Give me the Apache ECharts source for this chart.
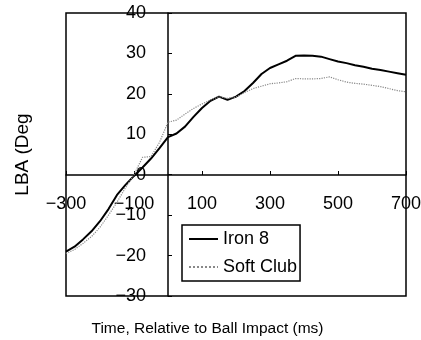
<!DOCTYPE html>
<html>
<head>
<meta charset="utf-8">
<script src="https://cdn.jsdelivr.net/npm/echarts@6/dist/echarts.min.js"></script>
<style>
  html, body { margin: 0; padding: 0; background: #fff; }
  #chart { width: 421px; height: 340px; }
</style>
</head>
<body>
<div id="chart"></div>
<script>
// time relative to ball impact (ms)
var times = [-300, -275, -250, -225, -200, -175, -150, -125, -100, -75, -50, -25, 0,
  25, 50, 75, 100, 125, 150, 175, 200, 225, 250, 275, 300, 325, 350, 375, 400,
  425, 450, 475, 500, 525, 550, 575, 600, 625, 650, 675, 700]
var iron8 = [-19.0, -17.8, -16.0, -14.0, -11.5, -8.5, -5.0, -2.5, -0.3, 1.8, 4.0, 6.6, 9.3,
  10.2, 11.9, 14.3, 16.5, 18.3, 19.3, 18.5, 19.3, 20.7, 22.7, 24.9, 26.4, 27.3, 28.2, 29.4, 29.5,
  29.4, 29.2, 28.6, 28.0, 27.6, 27.1, 26.7, 26.2, 25.9, 25.5, 25.1, 24.7]
var softClub = [-19.5, -18.5, -17.0, -15.3, -13.0, -10.0, -6.8, -3.2, 0.0, 4.3, 4.5, 8.0, 13.0,
  13.5, 15.0, 16.4, 17.5, 18.5, 19.3, 18.9, 19.2, 20.3, 21.3, 21.9, 22.5, 22.7, 23.0, 23.8, 23.7,
  23.7, 23.8, 24.2, 23.5, 22.9, 22.6, 22.4, 22.1, 21.8, 21.3, 20.8, 20.5]
var seriesNames = ['Iron 8', 'Soft Club']

function pairs (ys) {
  var out = []
  for (var i = 0; i < times.length; i++) out.push([times[i], ys[i]])
  return out
}
function minus (v) {
  return String(v).replace('-', '\u2212')
}

var myChart = echarts.init(document.getElementById('chart'))
var font = 'Liberation Sans, Arial, sans-serif'
// axes cross at (0, 0): move them in from the grid edges
var xAxisOffset = -121
var yAxisOffset = -102
var option = {
  animation: false,
  textStyle: { fontFamily: font },
  grid: {
    left: 66, right: 15, top: 13, bottom: 44,
    containLabel: false,
    outerBoundsMode: 'none',
    show: true, borderColor: '#000', borderWidth: 1.5
  },
  legend: {
    orient: 'vertical',
    left: 182, top: 225,
    padding: [5, 3, 5, 6],
    itemGap: 10,
    itemWidth: 29, itemHeight: 10,
    borderColor: '#000', borderWidth: 1.5,
    itemStyle: { opacity: 0 },
    textStyle: { fontSize: 18, color: '#000', fontFamily: font },
    data: seriesNames
  },
  xAxis: {
    type: 'value',
    position: 'bottom',
    offset: xAxisOffset,
    min: -300, max: 700, interval: 200,
    name: 'Time, Relative to Ball Impact (ms)',
    nameLocation: 'middle',
    nameGap: 146,
    nameTextStyle: { fontSize: 15.5, color: '#000', padding: [0, 57, 0, 0] },
    axisLine: { onZero: false, lineStyle: { color: '#000', width: 1.5 } },
    axisTick: { inside: true, length: 4, lineStyle: { color: '#000' } },
    axisLabel: { fontSize: 18, color: '#000', margin: 20, showMinLabel: true, showMaxLabel: true, formatter: minus },
    splitLine: { show: false }
  },
  yAxis: {
    type: 'value',
    position: 'left',
    offset: yAxisOffset,
    min: -30, max: 40, interval: 10,
    name: 'LBA (Deg',
    nameLocation: 'middle',
    nameRotate: 90,
    nameGap: 136,
    nameTextStyle: { fontSize: 19, color: '#000' },
    axisLine: { onZero: false, lineStyle: { color: '#000', width: 1.5 } },
    axisTick: { inside: true, length: 4, lineStyle: { color: '#000' } },
    axisLabel: { fontSize: 18, color: '#000', margin: 22, formatter: minus },
    splitLine: { show: false }
  },
  series: [
    {
      name: seriesNames[0],
      type: 'line',
      data: pairs(iron8),
      symbol: 'none',
      lineStyle: { color: '#000', width: 2 },
      itemStyle: { color: '#000' }
    },
    {
      name: seriesNames[1],
      type: 'line',
      data: pairs(softClub),
      symbol: 'none',
      lineStyle: { color: '#888', width: 1.2, type: 'dotted' },
      itemStyle: { color: '#888' }
    }
  ]
}
myChart.setOption(option, true)
</script>
</body>
</html>
